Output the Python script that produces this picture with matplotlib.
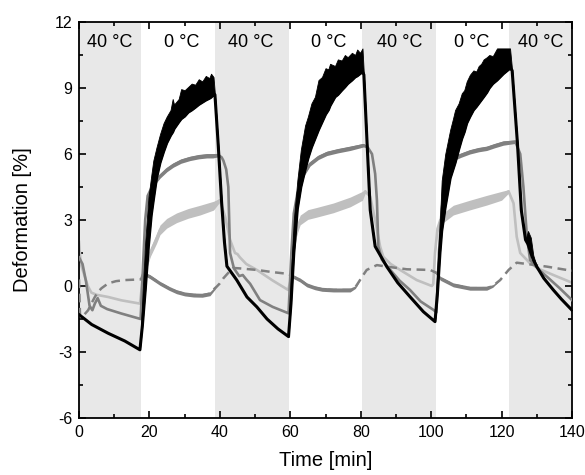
import numpy as np
import matplotlib
matplotlib.use("Agg")
import matplotlib.pyplot as plt

plt.rcParams['font.family'] = ['Liberation Sans', 'DejaVu Sans']
plt.rcParams['axes.unicode_minus'] = False

# ---- temperature phases ----
phase_starts = [0, 17.6, 38.6, 59.6, 80.5, 101.4, 122.0]
phase_ends = [17.6, 38.6, 59.6, 80.5, 101.4, 122.0, 140]
phase_labels = ["40 °C", "0 °C", "40 °C", "0 °C", "40 °C", "0 °C", "40 °C"]
phase_label_x = [8.8, 29.2, 48.8, 71.0, 91.0, 111.6, 131.0]

# ---- black series: smooth lower edge and noisy upper envelope ----
black_t = [0, 3.6, 8.3, 13.0, 17.3, 18.0, 18.8, 19.7, 20.5, 21.1, 22.0, 23.0, 24.0, 24.9,
           26.0, 26.6, 27.0, 28.3, 29.0, 30.0, 31.0, 32.0, 33.0, 34.0, 35.0, 36.0, 37.0,
           37.5, 38.2, 38.6,
           39.5, 40.5, 41.3, 42.0, 44.8, 47.7, 50.5, 53.4, 56.5, 59.5,
           60.2, 61.0, 62.0, 63.0, 64.2, 65.0, 66.0, 67.0, 68.0, 69.0, 70.0, 70.8, 71.3,
           72.7, 73.5, 74.6, 75.5, 76.3, 77.5, 78.4, 79.0, 79.8, 80.5,
           80.9, 82.7, 84.1, 87.4, 90.5, 94.0, 97.8, 101.1,
           101.8, 102.5, 103.0, 104.0, 105.4, 106.2, 106.8, 107.8, 108.7, 109.4, 110.1,
           111.0, 112.0, 112.8, 113.5, 114.2, 114.9, 115.8, 116.5, 117.5, 118.7, 120.5,
           122.4, 123.0, 124.5, 125.6, 126.8, 127.5, 128.3, 129.0,
           130.0, 132.0, 134.7, 137.0, 140.0]
black_lo = [-1.30, -1.75, -2.15, -2.50, -2.90, -1.80, -0.20, 1.80, 3.20, 3.90, 4.90, 5.60, 6.10, 6.50,
            6.85, 7.00, 7.15, 7.45, 7.60, 7.72, 7.90, 8.00, 8.12, 8.25, 8.35, 8.45, 8.53,
            8.58, 8.70, 8.70,
            6.50, 3.80, 2.00, 0.90, 0.27, -0.50, -0.95, -1.50, -1.95, -2.30,
            -0.80, 1.50, 3.50, 4.50, 5.30, 5.80, 6.30, 6.70, 7.10, 7.45, 7.80, 8.00, 8.20,
            8.60, 8.70, 8.90, 9.05, 9.20, 9.36, 9.50, 9.55, 9.65, 9.74,
            9.60, 3.45, 1.80, 0.88, 0.15, -0.49, -1.17, -1.62,
            -0.30, 1.50, 2.50, 3.60, 4.90, 5.30, 5.60, 6.20, 6.70, 7.00, 7.40,
            7.70, 8.00, 8.15, 8.30, 8.45, 8.60, 8.80, 9.00, 9.20, 9.36, 9.65,
            9.90, 9.80, 6.50, 3.45, 2.10, 1.90, 1.50, 1.20,
            0.88, 0.35, -0.18, -0.60, -1.10]
black_hi = [-1.30, -1.75, -2.15, -2.50, -2.90, -0.50, 2.00, 4.00, 5.00, 5.70, 6.30, 6.90, 7.40, 7.70,
            8.00, 8.50, 8.25, 8.50, 8.95, 8.90, 9.05, 9.20, 9.15, 9.40, 9.30, 9.55, 9.45,
            9.65, 9.50, 8.70,
            6.50, 3.80, 2.00, 0.90, 0.27, -0.50, -0.95, -1.50, -1.95, -2.30,
            0.50, 3.00, 4.80, 6.20, 7.30, 7.70, 8.30, 8.60, 9.36, 9.50, 9.90, 9.85, 10.10,
            10.00, 10.30, 10.25, 10.50, 10.40, 10.60, 10.50, 10.75, 10.60, 10.80,
            9.60, 3.45, 1.80, 0.88, 0.15, -0.49, -1.17, -1.62,
            1.00, 3.00, 4.80, 6.00, 7.10, 7.60, 8.00, 8.30, 8.76, 8.90, 9.30,
            9.60, 9.80, 9.75, 10.00, 10.10, 10.30, 10.40, 10.50, 10.45, 10.80, 10.80,
            10.80, 9.80, 6.50, 3.45, 2.10, 2.50, 2.20, 1.40,
            0.88, 0.35, -0.18, -0.60, -1.10]

# ---- medium grey solid series ----
mid_t = [0, 1.0, 2.0, 3.0, 3.8, 4.5, 5.3, 6.2, 8.0, 12.0, 17.5,
         18.2, 18.8, 19.5, 21.0, 23.0, 25.0, 26.8, 29.0, 31.5, 34.0, 36.3, 38.0, 39.6,
         40.5, 41.0, 41.8, 42.4, 42.9, 44.0, 45.5, 46.5, 47.5, 48.6, 51.4, 55.0, 59.5,
         60.3, 61.0, 62.0, 62.8, 63.5, 65.6, 68.0, 70.4, 73.5, 77.0, 80.8,
         82.0, 83.2, 84.1, 84.6, 85.0, 86.0, 88.4, 91.0, 94.0, 97.0, 100.7, 101.5,
         102.2, 103.0, 104.0, 105.4, 106.3, 108.5, 111.0, 113.5, 115.8, 118.0, 120.5, 123.9,
         125.3, 126.2, 127.2, 128.1, 130.5, 132.9, 136.5, 140.0]
mid_y = [1.30, 1.00, 0.20, -0.90, -1.10, -0.80, -0.55, -0.90, -1.05, -1.25, -1.50,
         1.00, 3.00, 4.10, 4.60, 5.00, 5.30, 5.50, 5.68, 5.80, 5.88, 5.92, 5.92, 5.95,
         5.85, 5.70, 5.30, 4.50, 1.50, 0.80, 0.45, 0.50, 0.30, 0.10, -0.64, -0.95, -1.24,
         1.50, 3.30, 4.20, 4.50, 5.00, 5.55, 5.85, 6.03, 6.15, 6.26, 6.40,
         6.30, 6.00, 5.10, 3.90, 1.80, 1.20, 0.73, 0.25, -0.18, -0.70, -1.09, -1.20,
         1.50, 3.50, 4.70, 5.55, 5.80, 5.95, 6.10, 6.20, 6.26, 6.38, 6.50, 6.56,
         6.00, 4.50, 2.24, 1.18, 0.75, 0.42, -0.10, -0.64]
mid_noise = [0, 0, 0, 0, 0, 0, 0, 0, 0, 0, 0,
             0.05, 0.08, 0.10, 0.10, 0.10, 0.10, 0.10, 0.10, 0.10, 0.10, 0.10, 0.10, 0.08,
             0, 0, 0, 0, 0, 0, 0, 0, 0, 0, 0, 0, 0,
             0.05, 0.08, 0.10, 0.10, 0.10, 0.10, 0.10, 0.10, 0.10, 0.10, 0.08,
             0, 0, 0, 0, 0, 0, 0, 0, 0, 0, 0, 0,
             0.05, 0.08, 0.10, 0.10, 0.10, 0.10, 0.10, 0.10, 0.10, 0.10, 0.10, 0.08,
             0, 0, 0, 0, 0, 0, 0, 0]

# ---- light grey solid series ----
light_t = [0, 0.5, 1.5, 2.5, 3.5, 5.0, 8.3, 12.0, 17.3,
           18.3, 19.2, 20.2, 22.0, 23.0, 24.9, 27.7, 31.0, 34.4, 38.2, 40.0,
           41.5, 42.9, 44.3, 45.0, 45.7, 47.5, 50.5, 55.0, 59.4,
           60.0, 60.8, 61.8, 62.8, 65.0, 67.5, 72.2, 77.0, 80.5, 81.3,
           82.7, 84.1, 85.5, 86.4, 88.5, 91.2, 95.9, 100.2,
           100.6, 101.1, 101.8, 102.6, 106.3, 111.0, 115.8, 120.0, 122.0,
           123.4, 124.3, 125.3, 128.1, 131.0, 134.7, 140.0]
light_y = [2.00, 1.00, 0.50, 0.00, -0.30, -0.40, -0.50, -0.65, -0.80,
           0.58, 0.90, 1.50, 2.15, 2.55, 2.85, 3.10, 3.30, 3.45, 3.65, 3.90,
           3.15, 2.10, 1.50, 1.45, 1.30, 1.00, 0.73, 0.25, -0.18,
           0.20, 1.50, 2.50, 3.00, 3.25, 3.35, 3.55, 3.82, 4.10, 4.30,
           4.06, 3.00, 1.80, 1.33, 1.00, 0.73, 0.27, 0.00,
           0.10, 1.50, 2.60, 3.00, 3.45, 3.68, 3.90, 4.10, 4.30,
           3.76, 2.24, 1.50, 1.03, 0.75, 0.50, 0.15]
light_noise = [0, 0, 0, 0, 0, 0, 0, 0, 0,
               0.08, 0.12, 0.18, 0.22, 0.22, 0.22, 0.22, 0.22, 0.22, 0.20, 0.08,
               0, 0, 0, 0, 0, 0, 0, 0, 0,
               0.08, 0.15, 0.20, 0.22, 0.22, 0.22, 0.22, 0.22, 0.20, 0.08,
               0, 0, 0, 0, 0, 0, 0, 0,
               0.05, 0.12, 0.18, 0.22, 0.22, 0.22, 0.22, 0.20, 0.08,
               0, 0, 0, 0, 0, 0, 0]

# ---- dashed grey series (noisy, thus solid-looking, during 0 °C) ----
dash_t = [0, 0.3, 1.5, 2.6, 3.5, 4.5, 5.5, 6.4, 8.3, 10.5, 13.1, 17.6,
          18.3, 20.2, 23.0, 25.5, 27.7, 30.0, 32.5, 35.0, 37.2, 38.6,
          39.1, 40.0, 41.0, 42.4, 43.8, 45.7, 50.5, 55.0, 59.5,
          60.9, 62.8, 64.7, 67.0, 69.0, 72.2, 77.0, 78.5,
          79.8, 80.5, 81.7, 84.6, 87.4, 93.1, 99.7, 101.5,
          102.6, 106.3, 111.0, 115.8, 117.5,
          119.6, 122.0, 124.3, 127.2, 132.9, 138.5, 140.0]
dash_y = [0.30, -1.40, -1.30, -1.10, -0.80, -0.50, -0.25, -0.10, 0.12, 0.22, 0.27, 0.30,
          0.58, 0.42, 0.12, -0.10, -0.26, -0.36, -0.41, -0.42, -0.35, -0.10,
          -0.03, 0.12, 0.35, 0.60, 0.82, 0.80, 0.73, 0.63, 0.55,
          0.42, 0.27, 0.05, -0.08, -0.15, -0.18, -0.18, -0.05,
          0.27, 0.45, 0.73, 0.95, 0.88, 0.76, 0.73, 0.60,
          0.35, 0.05, -0.10, -0.10, 0.00,
          0.27, 0.73, 1.06, 1.00, 0.88, 0.73, 0.70]
dash_noise = [0, 0, 0, 0, 0, 0, 0, 0, 0, 0, 0, 0,
              0.08, 0.09, 0.09, 0.09, 0.09, 0.09, 0.09, 0.09, 0.09, 0.06,
              0, 0, 0, 0, 0, 0, 0, 0, 0,
              0.08, 0.09, 0.09, 0.09, 0.09, 0.09, 0.09, 0.06,
              0, 0, 0, 0, 0, 0, 0, 0.06,
              0.09, 0.09, 0.09, 0.09, 0.06,
              0, 0, 0, 0, 0, 0, 0]

x_ticks = [0, 20, 40, 60, 80, 100, 120, 140]
y_ticks = [-6, -3, 0, 3, 6, 9, 12]

BLACK = "#000000"
MID = "#808080"
LIGHT = "#bfbfbf"
SHADE = "#e8e8e8"

fig = plt.figure(figsize=(5.85, 4.75), dpi=100)
ax = fig.add_axes([79 / 585, 1 - 418 / 475, (572 - 79) / 585, (418 - 22) / 475])

# shaded 40 °C bands
for s, e, lab in zip(phase_starts, phase_ends, phase_labels):
    if lab.startswith("40"):
        ax.axvspan(s, e, color=SHADE, lw=0, zorder=0)
for x, lab in zip(phase_label_x, phase_labels):
    ax.text(x, 11.05, lab, ha="center", va="center", fontsize=13, zorder=6)

lt = np.array(light_t); ly = np.array(light_y); ln = np.array(light_noise)
ax.fill_between(lt, ly - ln, ly + ln, color=LIGHT, lw=0, zorder=2)
ax.plot(lt, ly, color=LIGHT, lw=1.9, zorder=2, solid_joinstyle="round")

dt = np.array(dash_t); dy = np.array(dash_y); dn = np.array(dash_noise)
ax.plot(dt, dy, color=MID, lw=1.8, dashes=(3.5, 2.2), zorder=3)
ax.fill_between(dt, dy - dn, dy + dn, color=MID, lw=0, zorder=3)

mt = np.array(mid_t); my = np.array(mid_y); mn = np.array(mid_noise)
ax.fill_between(mt, my - mn, my + mn, color=MID, lw=0, zorder=4)
ax.plot(mt, my, color=MID, lw=1.9, zorder=4, solid_joinstyle="round")

ax.fill_between(black_t, black_lo, black_hi, color=BLACK, lw=0.6, zorder=5)
ax.plot(black_t, black_lo, color=BLACK, lw=2.2, zorder=5, solid_joinstyle="round")

ax.set_xlim(0, 140)
ax.set_ylim(-6, 12)
ax.set_xticks(x_ticks)
ax.set_yticks(y_ticks)
ax.set_xticks(np.arange(0, 141, 10), minor=True)
ax.set_yticks(np.arange(-6, 12.1, 1.5), minor=True)
ax.tick_params(which="both", direction="in", top=True, right=True, width=1.2,
               labelsize=11.5, pad=5)
ax.tick_params(which="major", length=5)
ax.tick_params(which="minor", length=3)
for sp in ax.spines.values():
    sp.set_linewidth(1.3)

ax.set_xlabel("Time [min]", fontsize=14.5, labelpad=8)
ax.set_ylabel("Deformation [%]", fontsize=14.5, labelpad=16)

fig.savefig("out.png", dpi=100)
